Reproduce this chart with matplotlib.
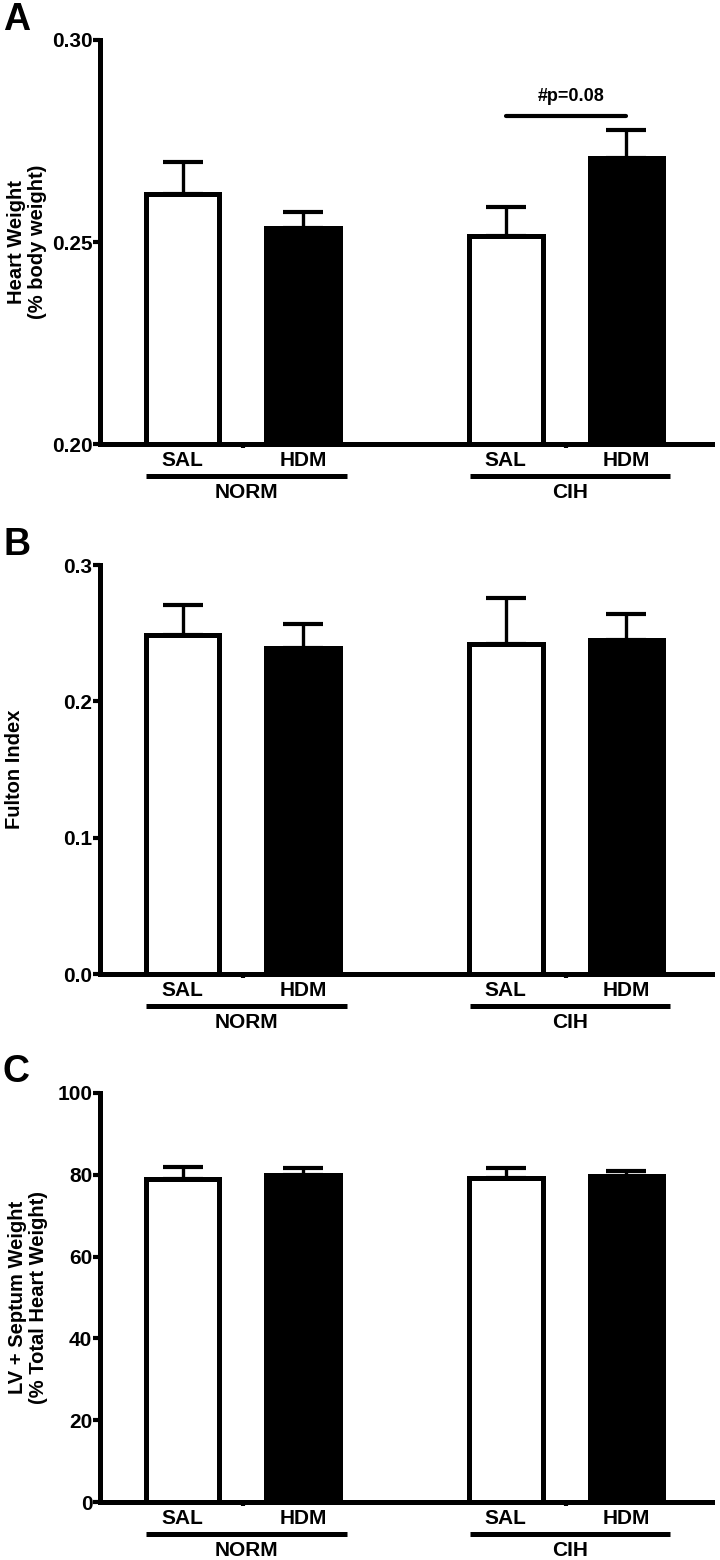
import numpy as np
import matplotlib
matplotlib.use("Agg")
import matplotlib.pyplot as plt
import matplotlib.transforms as mtransforms

plt.rcParams['font.family'] = ['Liberation Sans', 'DejaVu Sans']
plt.rcParams['font.weight'] = 'bold'

# data
treatments = ["SAL", "HDM", "SAL", "HDM"]
groups = ["NORM", "CIH"]
x_pos = [0.0, 1.0, 2.68, 3.68]
bar_colors = ["white", "black", "white", "black"]

heart_mean = [0.262, 0.2535, 0.2515, 0.2708]
heart_err = [0.0078, 0.0039, 0.0072, 0.0069]

fulton_mean = [0.2487, 0.2388, 0.2418, 0.2447]
fulton_err = [0.0221, 0.0178, 0.0339, 0.0195]

lv_mean = [79.0, 80.0, 79.3, 79.7]
lv_err = [3.0, 1.6, 2.3, 1.3]

panels = [
    dict(letter="A", mean=heart_mean, err=heart_err, ylim=(0.20, 0.30),
         yticks=[0.20, 0.25, 0.30], yfmt="{:.2f}",
         ylabel="Heart Weight\n(% body weight)", ylab_x=27,
         rect=[100, 40, 612, 404], letter_y=30),
    dict(letter="B", mean=fulton_mean, err=fulton_err, ylim=(0.0, 0.3),
         yticks=[0.0, 0.1, 0.2, 0.3], yfmt="{:.1f}",
         ylabel="Fulton Index", ylab_x=15,
         rect=[100, 565, 612, 409], letter_y=555),
    dict(letter="C", mean=lv_mean, err=lv_err, ylim=(0, 100),
         yticks=[0, 20, 40, 60, 80, 100], yfmt="{:.0f}",
         ylabel="LV + Septum Weight\n(% Total Heart Weight)", ylab_x=28,
         rect=[100, 1093, 612, 409], letter_y=1082),
]

W, H = 720, 1560
fig = plt.figure(figsize=(W / 100, H / 100), dpi=100)

bar_w = 0.61
lw = 3.6
fs = 15
lab_fs = 14.5

for p in panels:
    left, top, w, h = p["rect"]
    ax = fig.add_axes([left / W, 1 - (top + h) / H, w / W, h / H])
    lo, hi = p["ylim"]
    heights = [m - lo for m in p["mean"]]
    ax.bar(x_pos, heights, bottom=lo, width=bar_w, color=bar_colors,
           edgecolor="black", linewidth=lw, zorder=3)
    ax.errorbar(x_pos, p["mean"], yerr=[np.zeros(4), p["err"]], fmt="none",
                ecolor="black", elinewidth=2.4, capsize=14.5, capthick=3.0, zorder=2)

    ax.set_xlim(-0.685, 4.39)
    ax.set_ylim(lo, hi)
    ax.set_yticks(p["yticks"])
    ax.set_yticklabels([p["yfmt"].format(t) for t in p["yticks"]],
                       fontsize=fs, fontweight="bold")
    ax.set_xticks([(x_pos[0] + x_pos[1]) / 2, (x_pos[2] + x_pos[3]) / 2])
    ax.set_xticklabels([])
    ax.tick_params(axis="y", length=5, width=3, pad=0.5)
    ax.tick_params(axis="x", length=3, width=3)
    for s in ["top", "right"]:
        ax.spines[s].set_visible(False)
    for s in ["left", "bottom"]:
        ax.spines[s].set_linewidth(lw)
        ax.spines[s].set_zorder(4)

    # treatment labels, group lines and group labels under the axis
    for x, t in zip(x_pos, treatments):
        ax.annotate(t, xy=(x, 0), xycoords=("data", "axes fraction"),
                    xytext=(0, -17 * 0.72), textcoords="offset points",
                    ha="center", va="center", fontsize=fs, fontweight="bold")
    line_tr = ax.get_xaxis_transform() + mtransforms.ScaledTranslation(0, -0.32, fig.dpi_scale_trans)
    for gi, g in enumerate(groups):
        xa, xb = x_pos[2 * gi], x_pos[2 * gi + 1]
        ax.plot([xa - 0.30, xb + 0.36], [0, 0], color="black", lw=3.6,
                transform=line_tr, clip_on=False, solid_capstyle="butt")
        ax.annotate(g, xy=((xa + xb) / 2 + 0.03, 0), xycoords=("data", "axes fraction"),
                    xytext=(0, -48 * 0.72), textcoords="offset points",
                    ha="center", va="center", fontsize=fs, fontweight="bold")

    fig.text(p["ylab_x"] / W, 1 - (top + h / 2) / H, p["ylabel"], rotation=90,
             ha="center", va="center", multialignment="center",
             fontsize=lab_fs, fontweight="bold", linespacing=1.15)
    fig.text(3 / W, 1 - p["letter_y"] / H, p["letter"], ha="left", va="baseline",
             fontsize=27, fontweight="bold")

    if p["letter"] == "A":
        sig_y = 0.2812
        ax.plot([x_pos[2], x_pos[3]], [sig_y, sig_y], color="black", lw=3.0,
                solid_capstyle="round")
        ax.text((x_pos[2] + x_pos[3]) / 2 + 0.04, sig_y + 0.0028, "#p=0.08",
                ha="center", va="bottom", fontsize=13, fontweight="bold")

fig.savefig("out.png", dpi=100, facecolor="white")
